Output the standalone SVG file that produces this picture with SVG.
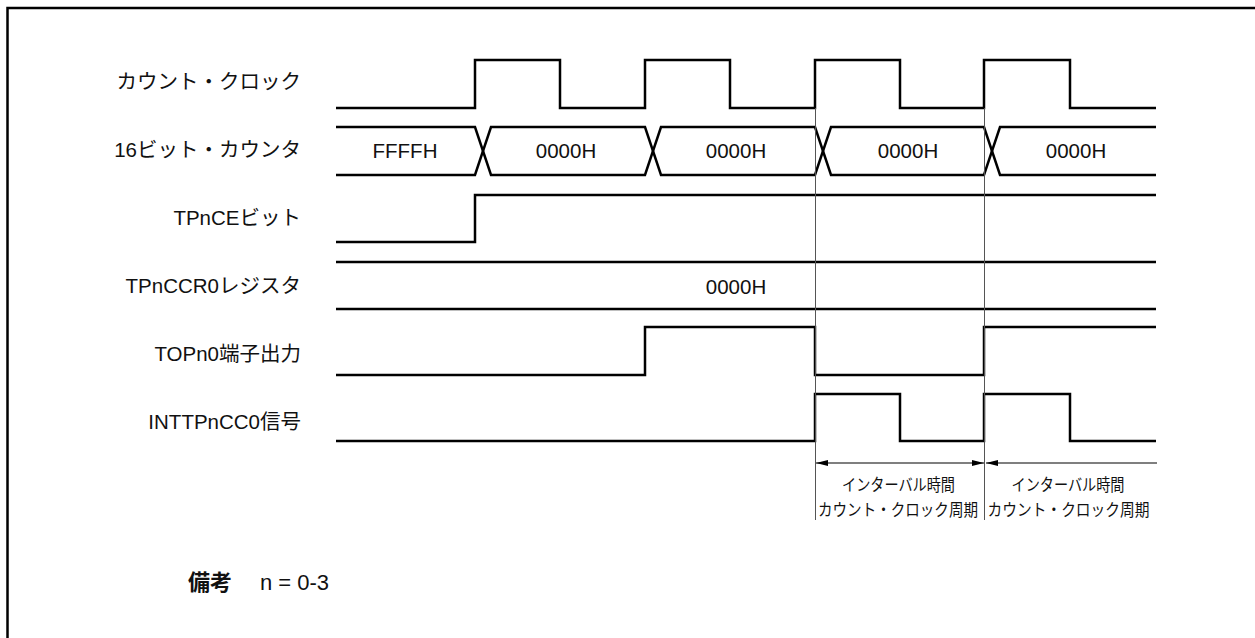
<svg xmlns="http://www.w3.org/2000/svg" width="1255" height="638" viewBox="0 0 1255 638">
<style>
.sig{fill:none;stroke:#000;stroke-width:2.5;stroke-linejoin:miter}
.lbl{font-family:"Liberation Sans","Noto Sans CJK JP",sans-serif;font-size:20.5px;fill:#111;text-anchor:end}
.val{font-family:"Liberation Sans","Noto Sans CJK JP",sans-serif;font-size:20.5px;fill:#111;text-anchor:middle}
.ann{font-family:"Noto Sans CJK JP",sans-serif;font-size:16.5px;fill:#111;text-anchor:middle}
.guide{stroke:#555;stroke-width:1}
.dim{stroke:#000;stroke-width:1.2}
.rem{font-family:"Liberation Sans","Noto Sans CJK JP",sans-serif;font-size:22px;fill:#111}
</style>
<defs>
<marker id="ah" viewBox="0 0 12 6" refX="12" refY="3" markerWidth="12" markerHeight="6" markerUnits="userSpaceOnUse" orient="auto-start-reverse">
<path d="M0,0 L12,3 L0,6 Z" fill="#000"/>
</marker>
</defs>
<rect width="1255" height="638" fill="#fff"/>
<path d="M7.5,638 V8 H1255" fill="none" stroke="#000" stroke-width="2.5"/>

<g id="count-clock">
<text class="lbl" x="301" y="89">カウント・クロック</text>
<path class="sig" d="M336,108 H475 V60 H560 V108 H645 V60 H730 V108 H815 V60 H900 V108 H984 V60 H1070 V108 H1156"/>
</g>

<g id="counter">
<text class="lbl" x="301" y="157">16ビット・カウンタ</text>
<path class="sig" d="M336,127 H475 L491,175 H645 L661,127 H815 L831,175 H984 L1000,127 H1156"/>
<path class="sig" d="M336,175 H475 L491,127 H645 L661,175 H815 L831,127 H984 L1000,175 H1156"/>
<text class="val" x="405" y="158">FFFFH</text>
<text class="val" x="566" y="158">0000H</text>
<text class="val" x="736" y="158">0000H</text>
<text class="val" x="908" y="158">0000H</text>
<text class="val" x="1076" y="158">0000H</text>
</g>

<g id="tpnce">
<text class="lbl" x="301" y="225">TPnCEビット</text>
<path class="sig" d="M336,242 H475 V195 H1156"/>
</g>

<g id="tpnccr0">
<text class="lbl" x="301" y="293">TPnCCR0レジスタ</text>
<path class="sig" d="M336,262 H1156 M336,309 H1156"/>
<text class="val" x="736" y="294">0000H</text>
</g>

<g id="topn0">
<text class="lbl" x="301" y="361">TOPn0端子出力</text>
<path class="sig" d="M336,375 H645 V327 H815 V375 H984 V327 H1156"/>
</g>

<g id="inttpncc0">
<text class="lbl" x="301" y="429">INTTPnCC0信号</text>
<path class="sig" d="M336,441 H815 V394 H900 V441 H984 V394 H1070 V441 H1156"/>
</g>

<g id="connectors">
<line class="guide" x1="815.5" y1="108" x2="815.5" y2="520"/>
<line class="guide" x1="984.5" y1="108" x2="984.5" y2="520"/>
<line class="dim" x1="816" y1="463" x2="984" y2="463" marker-start="url(#ah)" marker-end="url(#ah)"/>
<line class="dim" x1="1157" y1="463" x2="986" y2="463" marker-end="url(#ah)"/>
</g>

<g id="interval-1">
<text class="ann" x="898.5" y="491" textLength="113" lengthAdjust="spacingAndGlyphs">インターバル時間</text>
<text class="ann" x="898" y="516" textLength="160" lengthAdjust="spacingAndGlyphs">カウント・クロック周期</text>
</g>
<g id="interval-2">
<text class="ann" x="1068" y="491" textLength="113" lengthAdjust="spacingAndGlyphs">インターバル時間</text>
<text class="ann" x="1068.5" y="516" textLength="162" lengthAdjust="spacingAndGlyphs">カウント・クロック周期</text>
</g>

<g id="remark">
<text class="rem" x="188" y="590" font-weight="bold">備考</text>
<text class="rem" x="260" y="590">n = 0-3</text>
</g>
</svg>
